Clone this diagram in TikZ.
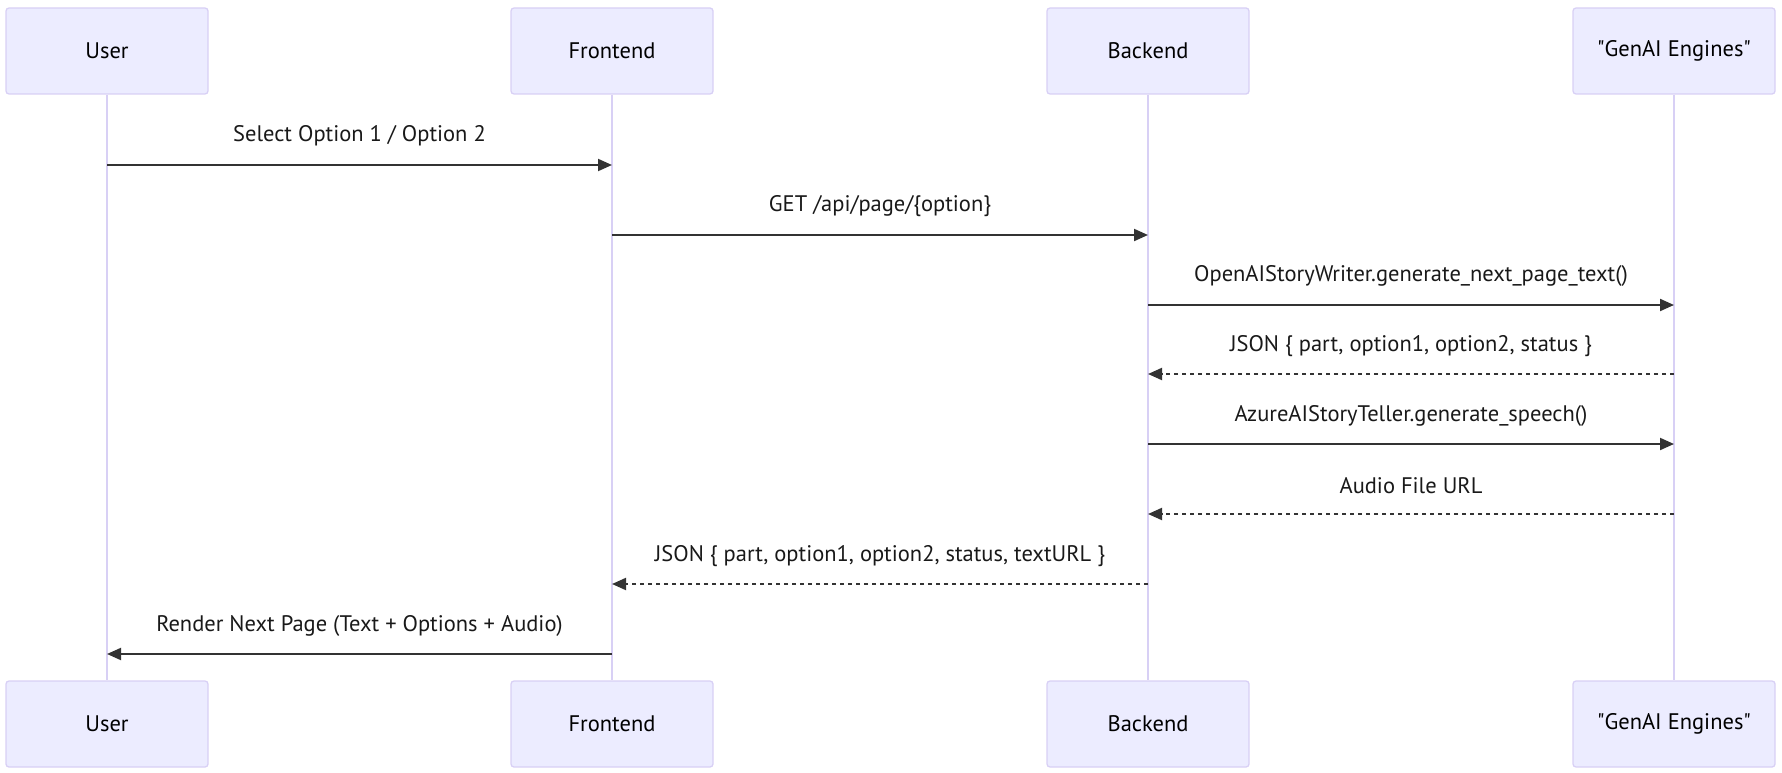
\documentclass[tikz,border=0pt]{standalone}
\usepackage{fontspec}
\setmainfont{PT Sans}
\usetikzlibrary{arrows.meta}
\definecolor{actfill}{HTML}{ECECFF}
\definecolor{actline}{HTML}{D8D0F5}
\definecolor{msg}{HTML}{333333}
\newcommand{\dq}{\XeTeXglyph\XeTeXcharglyph"22\relax}
\tikzset{
  actor/.style={draw=actline, line width=1.3pt, fill=actfill, rounded corners=3pt,
    minimum width=202pt, minimum height=86pt, inner sep=0pt, font=\fontsize{22.5}{27}\selectfont, text=black},
  life/.style={draw=actline, line width=2pt},
  msgline/.style={draw=msg, line width=2pt, -{Triangle[length=14pt,width=12pt]}},
  reply/.style={msgline, dash pattern=on 4pt off 4pt},
  lbl/.style={font=\fontsize{22.5}{27}\selectfont, text=black!90, inner sep=0pt}
}
\begin{document}
\begin{tikzpicture}[x=1pt,y=-1pt]
\useasboundingbox (0,0) rectangle (1782,773);
% actors
\node[actor] (uT) at (107,51) {User};
\node[actor] (fT) at (612,51) {Frontend};
\node[actor] (bT) at (1148,51) {Backend};
\node[actor] (gT) at (1674,51) {\dq GenAI Engines\dq};
\node[actor] (uB) at (107,724) {User};
\node[actor] (fB) at (612,724) {Frontend};
\node[actor] (bB) at (1148,724) {Backend};
\node[actor] (gB) at (1674,724) {\dq GenAI Engines\dq};
% lifelines
\draw[life] (uT.south) -- (uB.north);
\draw[life] (fT.south) -- (fB.north);
\draw[life] (bT.south) -- (bB.north);
\draw[life] (gT.south) -- (gB.north);
% message points
\coordinate (u1) at (107,165); \coordinate (f1) at (612,165);
\coordinate (f2) at (612,235); \coordinate (b2) at (1148,235);
\coordinate (b3) at (1148,305); \coordinate (g3) at (1674,305);
\coordinate (g4) at (1674,374); \coordinate (b4) at (1148,374);
\coordinate (b5) at (1148,444); \coordinate (g5) at (1674,444);
\coordinate (g6) at (1674,514); \coordinate (b6) at (1148,514);
\coordinate (b7) at (1148,584); \coordinate (f7) at (612,584);
\coordinate (f8) at (612,654); \coordinate (u8) at (107,654);
% messages
\draw[msgline] (u1) -- (f1);
\node[lbl] (l1) at (359.5,136) {Select Option 1 / Option 2};
\draw[msgline] (f2) -- (b2);
\node[lbl] (l2) at (880,206) {GET /api/page/\{option\}};
\draw[msgline] (b3) -- (g3);
\node[lbl] (l3) at (1411,276) {OpenAIStoryWriter.generate\_next\_page\_text()};
\draw[reply] (g4) -- (b4);
\node[lbl] (l4) at (1411,346) {JSON \{ part, option1, option2, status \}};
\draw[msgline] (b5) -- (g5);
\node[lbl] (l5) at (1411,416) {AzureAIStoryTeller.generate\_speech()};
\draw[reply] (g6) -- (b6);
\node[lbl] (l6) at (1411,486) {Audio File URL};
\draw[reply] (b7) -- (f7);
\node[lbl] (l7) at (880,556) {JSON \{ part, option1, option2, status, textURL \}};
\draw[msgline] (f8) -- (u8);
\node[lbl] (l8) at (359.5,626) {Render Next Page (Text + Options + Audio)};
\end{tikzpicture}
\end{document}
